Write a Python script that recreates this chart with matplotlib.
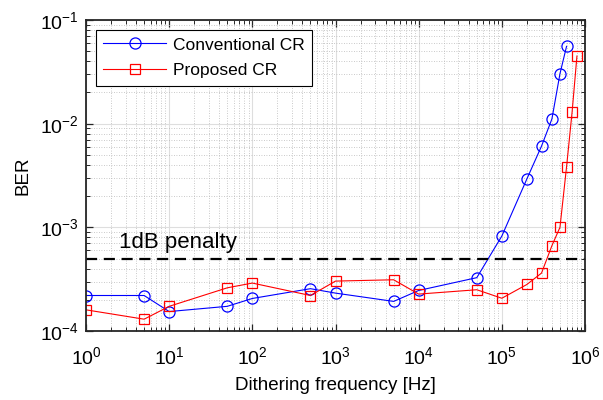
import numpy as np
import matplotlib
matplotlib.use("Agg")
import matplotlib.pyplot as plt
from matplotlib.ticker import LogLocator, NullFormatter, FixedLocator

plt.rcParams['font.family'] = ['Liberation Sans', 'DejaVu Sans']

# data
freq_conv = [1, 5, 10, 50, 100, 500, 1000, 5000, 1e4, 5e4, 1e5, 2e5, 3e5, 4e5, 5e5, 6e5]
ber_conv = [2.2e-4, 2.2e-4, 1.54e-4, 1.73e-4, 2.06e-4, 2.56e-4, 2.32e-4, 1.93e-4,
            2.46e-4, 3.27e-4, 8.24e-4, 2.93e-3, 6.07e-3, 1.11e-2, 3.03e-2, 5.57e-2]

freq_prop = [1, 5, 10, 50, 100, 500, 1000, 5000, 1e4, 5e4, 1e5, 2e5, 3e5, 4e5, 5e5, 6e5, 7e5, 8e5]
ber_prop = [1.6e-4, 1.3e-4, 1.73e-4, 2.61e-4, 2.9e-4, 2.2e-4, 3.03e-4, 3.12e-4,
            2.27e-4, 2.5e-4, 2.07e-4, 2.81e-4, 3.62e-4, 6.65e-4, 1.0e-3, 3.83e-3, 1.3e-2, 4.49e-2]

x_ticks = [1, 10, 100, 1e3, 1e4, 1e5, 1e6]
y_ticks = [1e-4, 1e-3, 1e-2, 1e-1]

penalty_ber = 5e-4
penalty_label = "1dB penalty"

fig = plt.figure(figsize=(6.03, 4.0), dpi=100)
ax = fig.add_axes([86 / 603, 1 - 331 / 400, 499 / 603, 311 / 400])

ax.plot(freq_conv, ber_conv, color="blue", lw=0.8, marker="o", ms=8,
        mfc="none", mec="blue", mew=0.9, label="Conventional CR")
ax.plot(freq_prop, ber_prop, color="red", lw=0.8, marker="s", ms=7,
        mfc="none", mec="red", mew=0.9, label="Proposed CR")
ax.axhline(penalty_ber, color="black", lw=1.6, ls=(0, (5, 3)))
ax.text(2.5, 7.2e-4, penalty_label, fontsize=16, va="center", ha="left")

ax.set_xscale("log")
ax.set_yscale("log")
ax.set_xlim(1, 1e6)
ax.set_ylim(1e-4, 1e-1)

ax.xaxis.set_major_locator(FixedLocator(x_ticks))
ax.yaxis.set_major_locator(FixedLocator(y_ticks))
ax.xaxis.set_minor_locator(LogLocator(base=10, subs=np.arange(2, 10), numticks=20))
ax.yaxis.set_minor_locator(LogLocator(base=10, subs=np.arange(2, 10), numticks=20))
ax.xaxis.set_minor_formatter(NullFormatter())
ax.yaxis.set_minor_formatter(NullFormatter())

ax.grid(True, which="major", color="0.87", lw=0.8, ls="-")
ax.grid(True, which="minor", color="0.72", lw=0.6, ls=(0, (1, 2)))
ax.set_axisbelow(True)

ax.tick_params(which="both", direction="in", top=True, right=True, color="0.15")
ax.tick_params(which="major", length=5, width=0.9, labelsize=14)
ax.tick_params(axis="x", which="major", pad=11)
ax.tick_params(axis="y", which="major", pad=5)
ax.tick_params(which="minor", length=3, width=0.7)
for sp in ax.spines.values():
    sp.set_color("0.15")
    sp.set_linewidth(1.3)

ax.set_xlabel("Dithering frequency [Hz]", fontsize=13.5, labelpad=6)
ax.set_ylabel("BER", fontsize=13.5, labelpad=6)

leg = ax.legend(loc="upper left", fontsize=12.5, frameon=True, fancybox=False,
                edgecolor="black", framealpha=1, borderaxespad=0.55,
                handlelength=3.6, handletextpad=0.4, labelspacing=0.6, borderpad=0.45)
leg.get_frame().set_linewidth(0.8)

fig.savefig("out.png", dpi=100)
